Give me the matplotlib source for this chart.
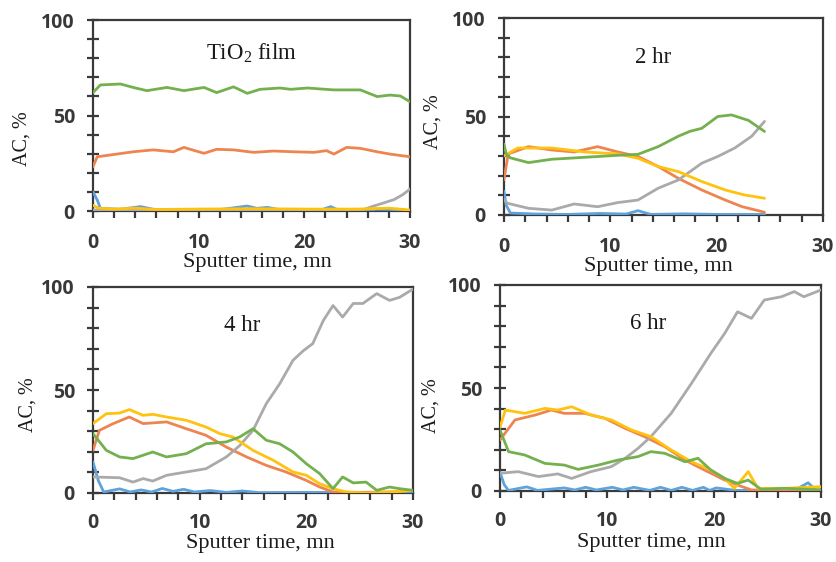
import matplotlib
matplotlib.use("Agg")
import matplotlib.pyplot as plt
from matplotlib.ticker import MultipleLocator

# ---------------- data ----------------
# Panel 1: TiO2 film
p1_green_x = [0, 0.7, 2.6, 3.8, 5.1, 7.0, 8.6, 10.5, 11.7, 13.3, 14.6, 15.8, 17.7, 18.7, 20.3, 21.5, 22.8, 25.3, 26.9, 28.1, 29.1, 30]
p1_green_y = [62, 66, 66.5, 64.7, 63, 64.7, 63, 64.7, 62, 65, 61.6, 63.7, 64.4, 63.7, 64.4, 63.9, 63.4, 63.4, 59.9, 60.7, 60.2, 57.2]
p1_orange_x = [0, 0.4, 1.6, 3.8, 5.7, 7.6, 8.6, 10.5, 11.7, 13.3, 15.2, 17.1, 19.0, 20.9, 22.1, 22.8, 24.0, 25.3, 26.9, 28.1, 30]
p1_orange_y = [23.2, 28.4, 29.3, 31, 32, 31, 33.3, 30.2, 32.3, 32, 30.7, 31.4, 31, 30.7, 31.6, 29.8, 33.3, 32.8, 31, 29.8, 28.4]
p1_blue_x = [0, 0.4, 0.7, 2.6, 4.5, 5.7, 7.5, 10.2, 11.7, 14.6, 15.5, 16.5, 18.0, 21.5, 22.5, 23.2, 26.0, 26.9, 28.1, 30]
p1_blue_y = [10, 5.8, 1.4, 0.9, 2.3, 0.9, 0.4, 0.9, 0.5, 2.6, 1.4, 1.9, 0.3, 0.4, 2.3, 0.5, 0.5, 0.9, 0.8, 0.2]
p1_gray_x = [0, 25.5, 26.5, 27.5, 28.5, 29.3, 30]
p1_gray_y = [0.5, 0.5, 2.5, 4.2, 6, 8.5, 11.5]
p1_yellow_x = [0, 0.5, 2, 4, 6, 10, 15, 20, 25, 28, 30]
p1_yellow_y = [3, 1.5, 1, 1.5, 0.8, 1, 1.2, 1, 1, 1.5, 0.5]

# Panel 2: 2 hr
p2_green_x = [0, 0.2, 0.6, 2.3, 4.5, 7.6, 10.7, 12.6, 14.5, 16.4, 17.5, 18.6, 20.1, 21.4, 23.0, 24.5]
p2_green_y = [36, 31, 29, 26.6, 28.3, 29.3, 30.3, 30.8, 34.7, 40, 42.5, 44, 50, 50.8, 48, 42.4]
p2_gray_x = [0, 0.3, 2.3, 4.5, 6.6, 8.8, 10.7, 12.6, 14.5, 16.4, 18.6, 20.1, 21.7, 23.3, 24.5]
p2_gray_y = [8, 6, 3.4, 2.5, 5.6, 4.2, 6.3, 7.6, 13.6, 17.8, 26.3, 29.7, 34, 40, 47.5]
p2_orange_x = [0, 0.4, 2.3, 4.5, 6.6, 8.8, 10.7, 12.6, 14.5, 16.4, 18.6, 20.8, 22.4, 24.5]
p2_orange_y = [18, 31, 34.7, 33, 32, 34.7, 32, 29.7, 24.6, 18.6, 12.7, 7.6, 4.2, 1.4]
p2_yellow_x = [0, 1.3, 4.5, 7.6, 10.7, 12.6, 14.5, 16.4, 18.6, 20.8, 22.6, 24.5]
p2_yellow_y = [30, 34, 34, 32, 31, 28.8, 24.6, 22, 17, 12.7, 10.2, 8.5]
p2_blue_x = [0, 0.2, 0.6, 3, 6, 9, 11.5, 12.6, 13.8, 17, 20, 24.5]
p2_blue_y = [12, 5, 1, 0.5, 0.3, 0.8, 0.5, 2.2, 0.3, 0.6, 0.3, 0.3]

# Panel 3: 4 hr
p3_gray_x = [0, 2.5, 3.75, 4.7, 5.6, 6.9, 8.75, 10.6, 12.5, 13.75, 15.0, 16.25, 17.5, 18.75, 19.7, 20.6, 21.6, 22.5, 23.4, 24.4, 25.3, 26.6, 27.8, 28.75, 30]
p3_gray_y = [7.8, 7.4, 5.3, 7, 5.8, 8.6, 10.2, 11.8, 17.5, 23, 30.4, 43.4, 53, 64.4, 69, 72.5, 83.8, 91, 85.4, 92, 92, 96.8, 93.5, 95, 99]
p3_yellow_x = [0, 1.25, 2.5, 3.4, 4.7, 5.6, 6.9, 8.75, 10.6, 11.9, 13.1, 15.0, 16.9, 18.75, 20.0, 21.25, 22.5, 23.75, 25.6, 28, 30]
p3_yellow_y = [33.7, 38.5, 38.8, 40.5, 37.7, 38.2, 36.9, 35.3, 32, 28.8, 27.2, 20.7, 15.9, 10.2, 8.6, 4.5, 2.1, 0.5, 0, 0.5, 1.3]
p3_orange_x = [0, 0.6, 1.9, 3.4, 4.7, 6.9, 8.75, 10.6, 12.5, 14.4, 16.25, 18.1, 20.0, 21.25, 22.5, 25, 28, 30]
p3_orange_y = [20.7, 30.4, 33.7, 36.9, 33.7, 34.5, 31.2, 28, 22.3, 17.5, 13.4, 10.2, 6.1, 2.9, 0.5, 0.3, 0.5, 1.3]
p3_green_x = [0, 1.25, 2.5, 3.75, 5.6, 6.9, 8.75, 10.6, 12.5, 13.75, 15.0, 16.25, 17.5, 18.75, 20.0, 21.25, 22.5, 23.4, 24.4, 25.6, 26.6, 27.8, 28.75, 30]
p3_green_y = [28.8, 20.7, 17.5, 16.7, 19.9, 17.5, 19.1, 23.9, 24.8, 27.2, 31.2, 25.6, 23.9, 19.9, 14.2, 9.4, 2.1, 7.8, 4.9, 5.3, 1.3, 2.9, 2.1, 1.3]
p3_blue_x = [0, 0.5, 1.0, 2.5, 3.5, 4.5, 5.5, 6.5, 7.5, 8.5, 9.5, 11, 12.5, 14, 15.5, 20, 25, 30]
p3_blue_y = [15, 6, 0.5, 2, 0.5, 1.5, 0.5, 2.2, 0.8, 1.8, 0.5, 1.2, 0.3, 1, 0.2, 0.3, 0.2, 0.2]

# Panel 4: 6 hr
p4_gray_x = [0, 1.7, 3.6, 5.4, 6.7, 8.5, 10.4, 11.7, 12.9, 14.1, 16.0, 17.9, 19.7, 21.0, 22.2, 23.5, 24.7, 26.3, 27.5, 28.4, 30]
p4_gray_y = [8.6, 9.4, 7, 8.3, 6.1, 9.4, 11.8, 15.9, 20.7, 26.4, 37.7, 52.3, 66.8, 76.5, 87, 83.8, 92.7, 94.3, 96.8, 94.3, 97.6]
p4_yellow_x = [0, 0.5, 2.3, 4.2, 5.4, 6.7, 8.5, 10.4, 12.3, 14.1, 16.0, 17.9, 19.7, 21.0, 21.9, 23.2, 24.1, 26.6, 30]
p4_yellow_y = [31, 39.3, 37.7, 40.1, 39.3, 40.9, 36.9, 34.5, 29.6, 26.4, 19.9, 14.2, 10.2, 6.1, 1.3, 9.4, 1.3, 1.3, 2.1]
p4_orange_x = [0, 1.4, 3.3, 4.8, 6.0, 7.9, 9.8, 11.7, 13.5, 15.4, 17.3, 19.1, 21.0, 22.2, 23.5, 26, 30]
p4_orange_y = [24.8, 34.5, 36.9, 39.3, 37.7, 37.7, 35.3, 30.4, 26.4, 21.5, 15, 10.2, 5.3, 2.9, 0.5, 0.3, 0.5]
p4_green_x = [0, 0.8, 2.3, 4.2, 6.0, 7.3, 9.2, 11.0, 12.9, 14.1, 15.4, 17.3, 18.5, 19.7, 21.0, 22.2, 23.2, 24.4, 26.6, 30]
p4_green_y = [29.6, 19.1, 17.5, 13.4, 12.6, 10.5, 12.6, 15, 16.7, 19.1, 18.3, 14.2, 15.9, 10.2, 6.1, 3.7, 5.3, 0.8, 1.3, 0.5]
p4_blue_x = [0, 0.4, 0.8, 2.5, 3.5, 6, 7, 8, 9, 10.5, 11.5, 12.5, 14, 15, 16, 17, 18, 19, 19.6, 20.2, 22, 27.5, 28.8, 29.5, 30]
p4_blue_y = [9, 3, 0.3, 2, 0.3, 1.5, 0.5, 1.8, 0.5, 1.8, 0.5, 1.8, 0.3, 1.8, 0.3, 1.8, 0.3, 1.8, 0.3, 1.5, 0.3, 0.3, 4, 0.5, 0.3]

titles = ["TiO$_\\mathrm{2}$ film", "2 hr", "4 hr", "6 hr"]
xlabel = "Sputter time, mn"
ylabel = "AC, %"
xticks = [0, 10, 20, 30]
yticks = [0, 50, 100]

panels = [
    dict(blue=(p1_blue_x, p1_blue_y), orange=(p1_orange_x, p1_orange_y), gray=(p1_gray_x, p1_gray_y),
         yellow=(p1_yellow_x, p1_yellow_y), green=(p1_green_x, p1_green_y)),
    dict(blue=(p2_blue_x, p2_blue_y), orange=(p2_orange_x, p2_orange_y), gray=(p2_gray_x, p2_gray_y),
         yellow=(p2_yellow_x, p2_yellow_y), green=(p2_green_x, p2_green_y)),
    dict(blue=(p3_blue_x, p3_blue_y), orange=(p3_orange_x, p3_orange_y), gray=(p3_gray_x, p3_gray_y),
         yellow=(p3_yellow_x, p3_yellow_y), green=(p3_green_x, p3_green_y)),
    dict(blue=(p4_blue_x, p4_blue_y), orange=(p4_orange_x, p4_orange_y), gray=(p4_gray_x, p4_gray_y),
         yellow=(p4_yellow_x, p4_yellow_y), green=(p4_green_x, p4_green_y)),
]

colors = dict(blue="#5fa2dc", orange="#ee8550", gray="#aaaaaa", yellow="#ffc20f", green="#74b04e")
order = ["blue", "orange", "gray", "yellow", "green"]

# ---------------- layout (pixels) ----------------
W, H = 837, 562
plt.rcParams["mathtext.fontset"] = "custom"
plt.rcParams["mathtext.rm"] = "Liberation Serif"
plt.rcParams["mathtext.it"] = "Liberation Serif:italic"

fig = plt.figure(figsize=(W / 100, H / 100), dpi=100)

# left, right, top, bottom in pixels
boxes = [(93, 410, 20, 211), (504, 823, 18, 215), (93, 413, 287, 493), (500, 821, 285, 491)]
title_pos = [(252, 60), (653, 63), (242, 331), (648, 329)]          # baselines
xlabel_pos = [(257, 267), (658, 271), (260, 548), (651, 547)]       # baselines
ylabel_pos = [(22, 139), (433, 122), (28, 405), (431, 406)]
tick_pads = [11, 11, 9.5, 9.5]

serif = "Liberation Serif"
for i, (l, r, t, b) in enumerate(boxes):
    ax = fig.add_axes([l / W, 1 - b / H, (r - l) / W, (b - t) / H])
    for key in order:
        xs, ys = panels[i][key]
        ax.plot(xs, ys, color=colors[key], lw=2.0, solid_joinstyle="round", solid_capstyle="round", zorder=3)
    ax.set_xlim(0, 30)
    ax.set_ylim(0, 100)
    ax.set_xticks(xticks)
    ax.set_yticks(yticks)
    ax.xaxis.set_minor_locator(MultipleLocator(2))
    ax.yaxis.set_minor_locator(MultipleLocator(10))
    for s in ax.spines.values():
        s.set_color("#3a3a3a")
        s.set_linewidth(1.6)
    ax.tick_params(axis="x", which="both", direction="out", length=5, width=1.6, color="#3a3a3a", pad=tick_pads[i])
    ax.tick_params(axis="y", which="both", direction="inout", length=8, width=1.6, color="#3a3a3a", pad=9)
    for lab in ax.get_xticklabels() + ax.get_yticklabels():
        lab.set_fontfamily("Open Sans")
        lab.set_fontweight("bold")
        lab.set_fontsize(14)
        lab.set_color("#383838")
    ax.set_facecolor("white")

    tx, ty = title_pos[i]
    fig.text(tx / W, 1 - ty / H, titles[i], ha="center", va="baseline", fontsize=16.5, family=serif, color="#1a1a1a")
    xx, xy = xlabel_pos[i]
    fig.text(xx / W, 1 - xy / H, xlabel, ha="center", va="baseline", fontsize=16, family=serif, color="#1a1a1a")
    yx, yy = ylabel_pos[i]
    fig.text(yx / W, 1 - yy / H, ylabel, ha="center", va="center", rotation=90, fontsize=14.5, family=serif, color="#1a1a1a")

fig.savefig("out.png", dpi=100, facecolor="white")
